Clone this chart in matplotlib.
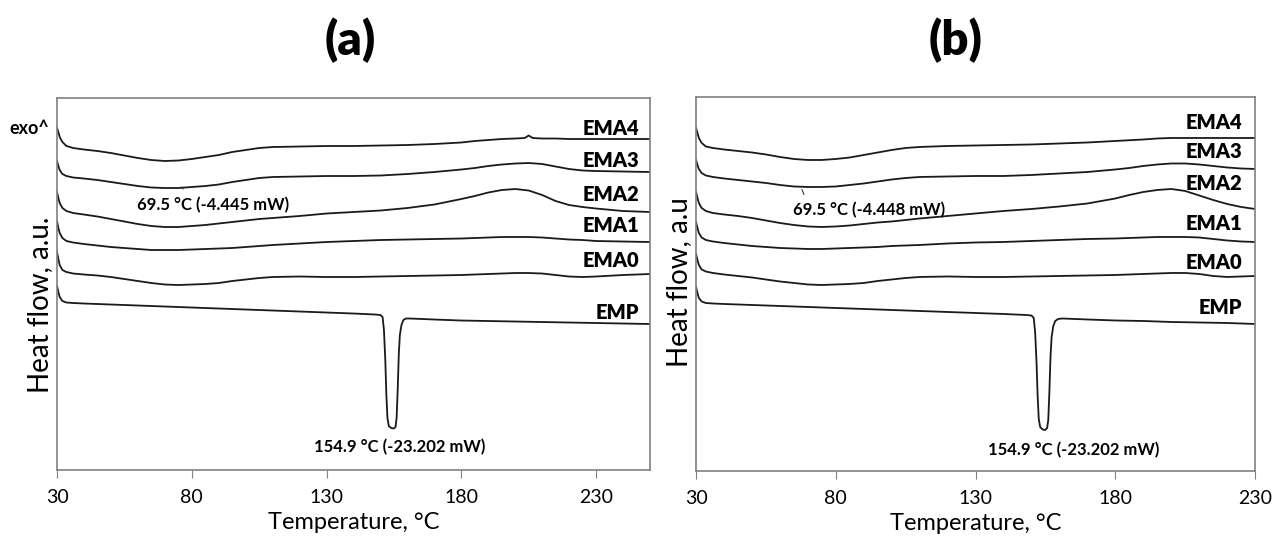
import matplotlib.pyplot as plt

plt.switch_backend("Agg")
plt.rcParams["font.family"] = ["Lato", "DejaVu Sans"]

# DSC traces: temperature (°C) and heat flow (a.u., offset,
# measured downward from the top of the panel, so endotherms point down)

# ---- panel (a) ----
a_ema4_t = [30, 30.5, 31, 32, 33.5, 36, 40, 45, 50, 55, 60, 65, 70, 75, 80, 85, 90, 95, 100, 105,
            110, 120, 130, 140, 150, 160, 170, 180, 185, 190, 195, 200, 203.5, 205, 206.5, 210, 215,
            220, 230, 240, 250]
a_ema4 = [128, 132, 137, 142, 146, 148, 149.5, 151, 153, 155.5, 158, 160, 161, 160.5, 159, 157, 155,
          152, 150, 148, 147, 146.5, 146, 146, 145.5, 145, 144, 142.5, 141, 140, 139, 138.5, 138,
          135.5, 138, 138.5, 138.5, 139, 139, 139, 139]

a_t = [30, 30.5, 31, 32, 33.5, 36, 40, 45, 50, 55, 60, 65, 70, 75, 80, 85, 90, 95, 100, 105, 110,
       120, 130, 140, 150, 160, 170, 180, 185, 190, 195, 200, 205, 210, 215, 220, 225, 230, 240, 250]
a_ema3 = [161, 166, 170, 174, 176, 177.5, 178.5, 180, 182, 184, 186, 187.5, 188, 188, 187, 186,
          184.5, 182, 180, 178, 177, 176.5, 176, 176, 175.5, 174, 172, 169.5, 168, 166, 164.5,
          163.5, 163, 164, 166.5, 169, 170.5, 171, 171.5, 172]
a_ema2 = [192, 198, 203, 208, 211, 213, 214.5, 216.5, 219, 221.5, 224, 226, 227, 227, 226, 225,
          223.5, 222, 220.5, 219, 218, 216, 213.5, 212, 210.5, 208, 204.5, 199, 196, 192.5, 190,
          189, 190.5, 195, 201, 205, 207, 208.5, 211, 212]
a_ema1 = [221, 228, 233, 238, 241, 242.5, 244, 245.5, 247, 248, 249, 250, 250, 250, 249.5, 249,
          248.5, 248, 247, 246, 245, 243.5, 242, 241, 240, 239.5, 239, 238.5, 238, 237.5, 237, 237,
          237, 237.5, 238.5, 239.5, 240, 241, 241.5, 242]
a_ema0 = [252, 259, 265, 270, 272, 273.5, 274.5, 275.5, 277, 279, 281, 283, 284.5, 285, 284.5,
          284, 283, 281, 279.5, 278, 277, 276.5, 277, 277, 276.5, 276, 275.5, 275, 274.5, 274,
          273.5, 273, 273, 273.5, 275, 276.5, 277, 276.5, 275, 274]

a_emp_t = [30, 30.5, 31, 32, 33.5, 36, 40, 50, 60, 70, 80, 90, 100, 110, 120, 130, 140, 148, 150,
           150.8, 151.3, 151.8, 152.2, 152.6, 153.1, 154, 154.9, 155.6, 156, 156.4, 156.8, 157.2,
           157.8, 158.5, 159.5, 161, 170, 180, 190, 200, 210, 220, 230, 240, 250]
a_emp = [286, 292, 297, 301, 302.5, 303, 303.5, 304.5, 305.5, 306.5, 307.5, 308.5, 309.5, 310.5,
         311.5, 312.5, 313.5, 314.5, 315, 317, 330, 360, 395, 418, 426, 428, 428.5, 427, 418, 390,
         355, 335, 325, 320, 318.5, 318.5, 319.5, 320.5, 321, 321.5, 322, 322.5, 323, 323.5, 324]

# ---- panel (b) ----
b_ema4_t = [30, 30.5, 31, 32, 33.5, 36, 40, 45, 50, 55, 60, 65, 70, 75, 80, 85, 90, 95, 100, 105,
            110, 120, 130, 140, 150, 160, 170, 180, 190, 195, 200, 210, 220, 230]
b_ema4 = [128, 133, 138, 143, 146.5, 148, 149.5, 151, 152.5, 154.5, 157, 159, 160, 160, 159, 157.5,
          155, 152.5, 150, 148, 147, 146, 145.5, 145, 144.5, 143.5, 142.5, 141, 139.5, 138.5, 138,
          138, 138, 138]

b_t = [30, 30.5, 31, 32, 33.5, 36, 40, 45, 50, 55, 60, 65, 70, 75, 80, 85, 90, 95, 100, 105, 110,
       120, 130, 140, 150, 160, 170, 180, 185, 190, 195, 200, 205, 210, 215, 220, 225, 230]
b_ema3 = [160, 165, 169, 173, 175.5, 177, 178.5, 180, 181.5, 183, 185, 186.5, 187, 187, 186.5, 185,
          183.5, 181.5, 179.5, 178, 177, 176.5, 176, 176, 175, 173.5, 172, 169.5, 168, 166, 164.5,
          163.5, 163.5, 164.5, 166, 167.5, 168.5, 169]
b_ema2 = [192, 198, 203, 208, 211, 213, 214.5, 216, 218, 220.5, 223, 225, 226.5, 227, 226.5, 225.5,
          224, 222.5, 221.5, 220, 218.5, 216, 213.5, 211, 209, 206.5, 203.5, 198.5, 195, 192, 190,
          189, 191, 195.5, 200, 204, 207, 209]
b_ema1 = [222, 228, 233, 237.5, 240, 241.5, 243, 244.5, 246, 247, 248, 248.5, 249, 249, 248.5, 248,
          247.5, 247, 246, 245.5, 245, 243.5, 242.5, 242, 241, 240, 239, 238.5, 238, 237.5, 237,
          237, 237, 237.5, 239, 240.5, 241.5, 242]
b_ema0 = [254, 260, 265, 269.5, 271.5, 273, 274.5, 276, 277.5, 279.5, 281.5, 283, 284.5, 285,
          284.5, 284, 283, 281, 279.5, 278, 277, 276.5, 277, 277, 276.5, 276, 275.5, 275, 274.5,
          274, 273.5, 273, 273, 274, 276, 277, 276.5, 276]

b_emp_t = [30, 30.5, 31, 32, 33.5, 36, 40, 50, 60, 70, 80, 90, 100, 110, 120, 130, 140, 148, 150,
           150.8, 151.3, 151.8, 152.2, 152.6, 153.1, 154, 154.9, 155.6, 156, 156.4, 156.8, 157.2,
           157.8, 158.5, 159.5, 161, 170, 180, 190, 200, 210, 220, 230]
b_emp = [287, 293, 298, 301.5, 303, 303.5, 304, 305, 306, 307, 308, 309, 310, 311, 312, 313, 314,
         315, 315.5, 318, 332, 362, 396, 419, 427, 429.5, 430, 428, 420, 392, 357, 337, 326, 321,
         319, 318.5, 319.5, 320.5, 321, 322, 322.5, 323, 324]

sample_names = ["EMA4", "EMA3", "EMA2", "EMA1", "EMA0", "EMP"]
a_label_y = [128, 160, 194, 225, 260, 312]
b_label_y = [123, 152, 184, 224, 263, 308]

fig = plt.figure(figsize=(12.84, 5.4), dpi=100)

ax_a = fig.add_axes([0.0444, 0.1296, 0.4618, 0.6889])
ax_b = fig.add_axes([0.5421, 0.1278, 0.4354, 0.6926])

panels = [
    (ax_a, [(a_ema4_t, a_ema4), (a_t, a_ema3), (a_t, a_ema2), (a_t, a_ema1), (a_t, a_ema0),
            (a_emp_t, a_emp)], (30, 250), (470, 98), a_label_y, 245.9),
    (ax_b, [(b_ema4_t, b_ema4), (b_t, b_ema3), (b_t, b_ema2), (b_t, b_ema1), (b_t, b_ema0),
            (b_emp_t, b_emp)], (30, 230), (471, 97), b_label_y, 225.3),
]

for ax, curves, xlim, ylim, label_y, label_x in panels:
    for (t, hf), name, ly in zip(curves, sample_names, label_y):
        ax.plot(t, hf, color="#1a1a1a", lw=1.3)
        ax.text(label_x, ly, name, ha="right", va="center", fontsize=14.5, fontweight="heavy")
    ax.set_xlim(*xlim)
    ax.set_ylim(*ylim)
    ax.set_xticks([30, 80, 130, 180, 230])
    ax.set_yticks([])
    ax.tick_params(axis="x", direction="out", length=6, color="#808080", labelsize=14, pad=8)
    for sp in ax.spines.values():
        sp.set_color("#808080")
        sp.set_linewidth(1.2)
    ax.set_xlabel("Temperature, °C", fontsize=17, labelpad=4)

# panel titles
fig.text(350 / 1284, 1 - 40 / 540, "(a)", ha="center", va="center", fontsize=34,
         fontweight="heavy")
fig.text(956 / 1284, 1 - 40 / 540, "(b)", ha="center", va="center", fontsize=34,
         fontweight="heavy")

# peak annotations
ax_a.annotate("", xy=(75.5, 185), xytext=(77.5, 191),
              arrowprops=dict(arrowstyle="-", lw=0.8, color="#333333"))
ax_a.text(87.8, 205, "69.5 °C (-4.445 mW)", ha="center", va="center", fontsize=12,
          fontweight="bold")
ax_a.text(157, 447, "154.9 °C (-23.202 mW)", ha="center", va="center", fontsize=12,
          fontweight="bold")

ax_b.annotate("", xy=(67.5, 187), xytext=(69, 197),
              arrowprops=dict(arrowstyle="-", lw=0.8, color="#333333"))
ax_b.text(92, 210, "69.5 °C (-4.448 mW)", ha="center", va="center", fontsize=12,
          fontweight="bold")
ax_b.text(165, 450, "154.9 °C (-23.202 mW)", ha="center", va="center", fontsize=12,
          fontweight="bold")

fig.text(40 / 1284, 1 - 305 / 540, "Heat flow, a.u.", rotation=90, ha="center", va="center",
         fontsize=20)
fig.text(679 / 1284, 1 - 282 / 540, "Heat flow, a.u", rotation=90, ha="center", va="center",
         fontsize=20)
fig.text(29 / 1284, 1 - 129 / 540, "exo^", ha="center", va="center", fontsize=13,
         fontweight="bold")

plt.savefig("out.png", dpi=100)
plt.close()
